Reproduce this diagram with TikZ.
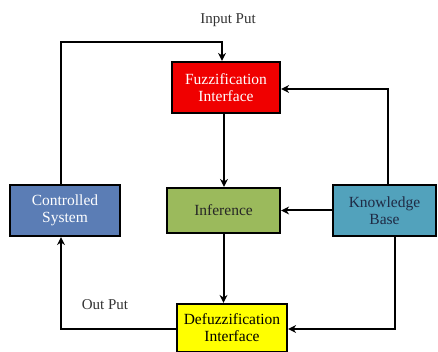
\documentclass[tikz,border=0pt]{standalone}
\usepackage{fontspec}
\setmainfont{Liberation Serif}
\usetikzlibrary{arrows.meta}
\definecolor{fuzzred}{HTML}{F00000}
\definecolor{ctrlblue}{HTML}{5B7DB5}
\definecolor{infgreen}{HTML}{9BBA5C}
\definecolor{kbteal}{HTML}{52A2BC}
\definecolor{defyellow}{HTML}{FFFF00}
\definecolor{kbtext}{HTML}{1F2A44}
\tikzset{
  box/.style={draw=black, line width=2.2pt, align=center, inner sep=0pt,
    font=\fontsize{15.5}{17}\selectfont},
  conn/.style={line width=2pt, -{Stealth[length=8pt,width=8pt]}},
  lab/.style={font=\fontsize{15}{16}\selectfont, text=black!80}
}
\begin{document}
\begin{tikzpicture}[x=1pt,y=-1pt]
\useasboundingbox (0,0) rectangle (438,352);
\node[box, fill=fuzzred, text=white, minimum width=108pt, minimum height=51pt] (fuzz) at (226,87.5) {Fuzzification\\Interface};
\node[box, fill=ctrlblue, text=white, minimum width=110pt, minimum height=51pt] (ctrl) at (65,210.5) {Controlled\\System};
\node[box, fill=infgreen, text=black!85, minimum width=113pt, minimum height=45pt] (inf) at (223.5,210.5) {Inference};
\node[box, fill=kbteal, text=kbtext, minimum width=103pt, minimum height=51pt] (kb) at (384.5,210.5) {Knowledge\\Base};
\node[box, fill=defyellow, text=black, minimum width=110pt, minimum height=48pt] (def) at (232,328) {Defuzzification\\Interface};
\node[lab] (inlab) at (228,20) {Input Put};
\node[lab] (outlab) at (105,305) {Out Put};
\coordinate (topc) at (222,42);
\draw[conn] ([xshift=-4pt]ctrl.north) |- (topc) -- (topc |- fuzz.north);
\draw[conn] ([xshift=3.5pt]kb.north) |- ([yshift=-1.5pt]fuzz.east);
\draw[conn] ([xshift=-2pt]fuzz.south) -- ([xshift=-2pt]fuzz.south |- inf.north);
\draw[conn] (kb.west) -- (inf.east);
\draw[conn] (inf.south) -- (inf.south |- def.north);
\draw[conn] ([yshift=-1pt]def.west) -| ([xshift=-4pt]ctrl.south);
\draw[conn] ([xshift=10.5pt]kb.south) |- ([yshift=-1pt]def.east);
\end{tikzpicture}
\end{document}
